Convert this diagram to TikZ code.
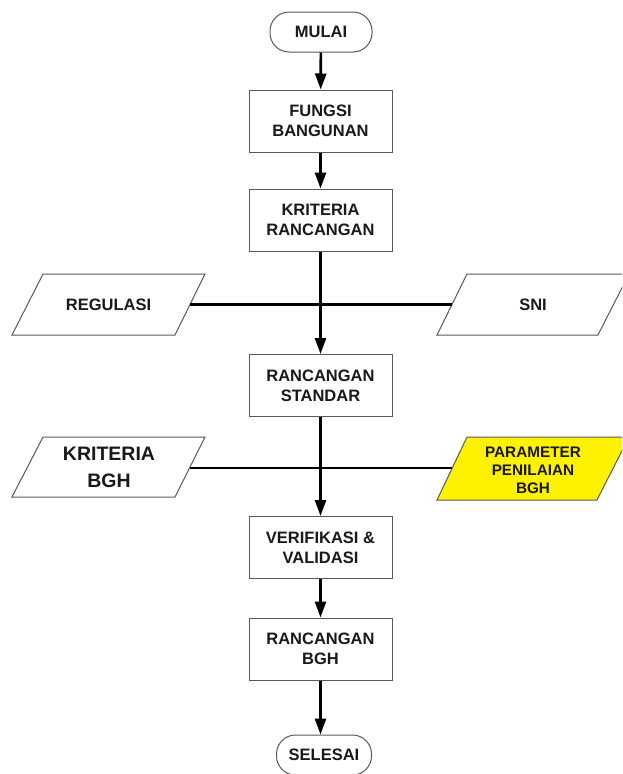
\documentclass[tikz,border=0pt]{standalone}
\usepackage{fontspec}
\setmainfont{Liberation Sans}
\usetikzlibrary{arrows.meta}
\begin{document}
\begin{tikzpicture}[x=1pt,y=-1pt,
  txt/.style={text=black!90, font=\bfseries\fontsize{16.5}{20}\selectfont, align=center, inner sep=0pt},
  box/.style={txt, draw=black!65, line width=1pt, fill=white,
    minimum width=143pt, minimum height=62pt},
  term/.style={txt, draw=black!65, line width=1pt, fill=white,
    rounded corners=19pt, minimum width=102pt, minimum height=40pt},
  inbox/.style={draw=black!65, line width=1pt, fill=white},
  flow/.style={line width=2.7pt, -{Triangle[width=11pt,length=16pt]}},
  link/.style={line width=2.1pt}
]
\clip (0,0) rectangle (622,774);

% main sequence
\node[term] (start) at (321,32) {MULAI};
\node[box] (fungsi) at (320.5,121) {FUNGSI\\BANGUNAN};
\node[box] (kriteria) at (320.5,220) {KRITERIA\\RANCANGAN};
\node[box] (standar) at (320.5,385.5) {RANCANGAN\\STANDAR};
\node[box] (verif) at (320.5,547.5) {VERIFIKASI \&\\VALIDASI};
\node[box] (bgh) at (320.5,649) {RANCANGAN\\BGH};
\node[term, minimum width=95pt] (finish) at (324,755) {SELESAI};

% input data
\draw[inbox] (12,335) -- (43,274) -- (205,274) -- (175,335) -- cycle;
\node[txt] (regulasi) at (108.5,305) {REGULASI};
\coordinate (regulasi-e) at (190,304.5);

\draw[inbox] (437,335) -- (467,274) -- (629,274) -- (598,335) -- cycle;
\node[txt] (sni) at (533,305) {SNI};
\coordinate (sni-w) at (452,304.5);

\draw[inbox] (12,497) -- (43,437) -- (205,437) -- (175,497) -- cycle;
\node[txt, font=\bfseries\fontsize{19.5}{27}\selectfont] (kbgh) at (109,467) {KRITERIA\\BGH};
\coordinate (kbgh-e) at (190,468);

\draw[inbox, fill=yellow] (437,500) -- (467,437) -- (629,437) -- (597,500) -- cycle;
\node[txt, font=\bfseries\fontsize{15.3}{18}\selectfont] (param) at (533,470) {PARAMETER\\PENILAIAN\\BGH};
\coordinate (param-w) at (452,468);

% input lines
\draw[link] (regulasi-e) -- (sni-w);
\draw[link] (kbgh-e) -- (param-w);

% flow arrows
\draw[flow] (start) -- (fungsi);
\draw[flow] (fungsi) -- (kriteria);
\draw[flow] (kriteria) -- (standar);
\draw[flow] (standar) -- (verif);
\draw[flow] (verif) -- (bgh);
\draw[flow] (bgh.south) -- (bgh.south |- finish.north);
\end{tikzpicture}
\end{document}
